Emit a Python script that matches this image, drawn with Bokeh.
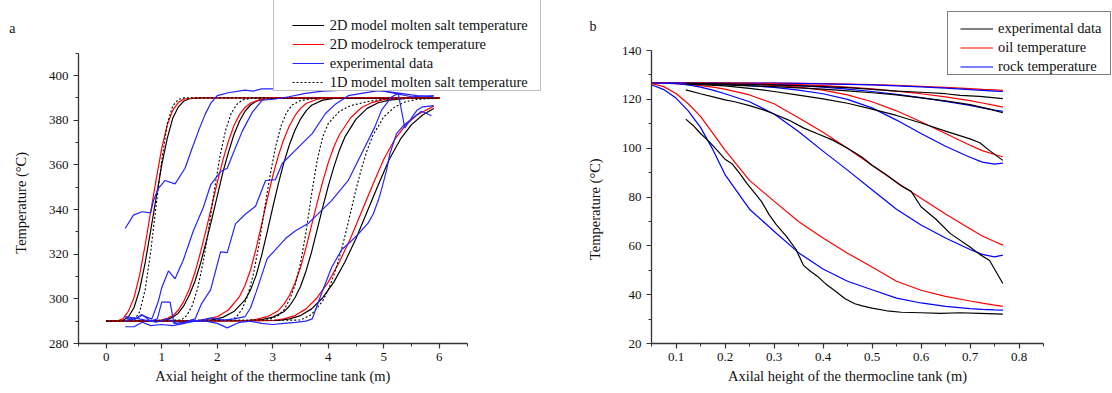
from bokeh.plotting import figure
from bokeh.models import Legend, LegendItem, FixedTicker, LinearAxis, Range1d
from bokeh.layouts import row
from bokeh.embed import file_html
from bokeh.resources import INLINE

FONT = "Liberation Serif"

# ---------------- Panel a data (x: axial height m, T: temperature C) ----------------
A_BLK1_X = [0.0, 0.3, 0.4, 0.5, 0.6, 0.7, 0.8, 0.9, 1.0, 1.1, 1.2, 1.3, 1.4, 1.5, 1.7, 6.0]
A_BLK1_T = [290, 290.3, 292, 296, 304, 316, 330.5, 345.5, 360, 372, 381, 386, 388.6, 389.6, 390, 390]
A_RED1_X = [0.0, 0.2, 0.3, 0.4, 0.5, 0.6, 0.7, 0.8, 0.9, 1.0, 1.1, 1.2, 1.3, 1.4, 1.6, 6.0]
A_RED1_T = [290, 290.2, 291, 294.5, 300.5, 310.5, 324, 339, 353.5, 367.5, 378, 384.5, 388, 389.5, 390, 390]
A_DOT1_X = [0.0, 0.5, 0.6, 0.7, 0.8, 0.9, 1.0, 1.1, 1.2, 1.3, 1.4, 6.0]
A_DOT1_T = [290, 290.5, 294, 304, 321, 342, 362, 378.5, 386.5, 389.3, 390, 390]

A_BLK2_X = [0.0, 1.0, 1.1, 1.2, 1.3, 1.4, 1.5, 1.6, 1.7, 1.8, 1.9, 2.0, 2.1, 2.2, 2.3, 2.4, 2.5, 2.6, 2.7, 2.9, 3.1, 6.0]
A_BLK2_T = [290, 290.3, 290.8, 291.8, 293.7, 297, 301.8, 308, 316, 325.5, 335.5, 346, 356.5, 365.5, 373.5, 379.5, 384, 386.8, 388.5, 389.7, 390, 390]
A_RED2_X = [0.0, 0.9, 1.0, 1.1, 1.2, 1.3, 1.4, 1.5, 1.6, 1.7, 1.8, 1.9, 2.0, 2.1, 2.2, 2.3, 2.4, 2.5, 2.6, 2.8, 3.0, 6.0]
A_RED2_T = [290, 290.2, 290.6, 291.3, 292.5, 295, 299, 304.5, 312, 321, 331, 341.5, 352, 362, 370.5, 377.5, 382.5, 385.7, 387.7, 389.5, 390, 390]
A_DOT2_X = [0.0, 1.35, 1.45, 1.55, 1.65, 1.75, 1.85, 1.95, 2.05, 2.15, 2.25, 2.35, 2.45, 2.6, 6.0]
A_DOT2_T = [290, 290.5, 292.5, 297, 305, 317, 332, 349, 364, 375.5, 383, 387, 389, 389.8, 390]

A_BLK3_X = [0.0, 1.7, 1.9, 2.1, 2.3, 2.5, 2.6, 2.7, 2.8, 2.9, 3.0, 3.1, 3.2, 3.3, 3.4, 3.5, 3.6, 3.7, 3.9, 4.1, 6.0]
A_BLK3_T = [290, 290.2, 290.6, 291.7, 294.3, 299.5, 304, 310.5, 319.5, 330, 341, 351.5, 361, 369, 375.5, 380.5, 384.2, 386.7, 389, 389.8, 390]
A_RED3_X = [0.0, 1.6, 1.8, 2.0, 2.2, 2.4, 2.5, 2.6, 2.7, 2.8, 2.9, 3.0, 3.1, 3.2, 3.3, 3.4, 3.5, 3.6, 3.8, 4.0, 6.0]
A_RED3_T = [290, 290.2, 290.7, 292, 295, 301, 306, 313, 322.5, 333.5, 344.5, 355, 364, 371.5, 377.5, 382, 385.3, 387.5, 389.4, 390, 390]
A_DOT3_X = [0.0, 2.25, 2.35, 2.45, 2.55, 2.65, 2.75, 2.85, 2.95, 3.05, 3.15, 3.25, 3.35, 3.5, 3.75, 6.0]
A_DOT3_T = [290, 290.5, 292, 295.5, 301.5, 311, 324, 340, 355, 368, 377.5, 383.5, 386.8, 388.8, 389.8, 390]

A_BLK4_X = [0.0, 2.6, 2.8, 3.0, 3.2, 3.3, 3.4, 3.5, 3.6, 3.7, 3.8, 3.9, 4.0, 4.1, 4.2, 4.3, 4.5, 4.7, 4.9, 5.1, 5.4, 6.0]
A_BLK4_T = [290, 290.2, 290.7, 291.8, 294.2, 296.8, 300.5, 305.5, 312.5, 321, 331, 341, 350.5, 359, 366.5, 372.5, 380.5, 385.3, 387.8, 389, 389.8, 390]
A_RED4_X = [0.0, 2.5, 2.7, 2.9, 3.1, 3.2, 3.3, 3.4, 3.5, 3.6, 3.7, 3.8, 3.9, 4.0, 4.1, 4.2, 4.4, 4.6, 4.8, 5.0, 5.3, 6.0]
A_RED4_T = [290, 290.2, 290.8, 292, 294.7, 297.5, 301.5, 307, 314, 323, 333, 343, 352.5, 361, 368, 373.5, 381, 385.7, 388, 389.2, 389.8, 390]
A_DOT4_X = [0.0, 2.9, 3.1, 3.2, 3.3, 3.4, 3.5, 3.6, 3.7, 3.8, 3.9, 4.0, 4.2, 4.4, 4.7, 5.0, 6.0]
A_DOT4_T = [290, 290.5, 292.5, 295, 299.5, 306, 316, 330, 347, 362, 372.5, 378.5, 384, 386.5, 388.3, 389.5, 390]

A_BLK5_X = [0.0, 3.1, 3.3, 3.5, 3.7, 3.9, 4.1, 4.3, 4.5, 4.7, 4.9, 5.1, 5.3, 5.5, 5.7, 5.9]
A_BLK5_T = [290, 290.3, 291, 292.5, 295.5, 300.5, 307.5, 316.5, 327, 339, 351, 362.5, 371.5, 378, 382.3, 385.2]
A_RED5_X = [0.0, 3.0, 3.2, 3.4, 3.6, 3.8, 4.0, 4.2, 4.4, 4.6, 4.8, 5.0, 5.2, 5.4, 5.6, 5.8, 5.9]
A_RED5_T = [290, 290.3, 291, 292.5, 295.5, 300.5, 307.5, 316.5, 327, 339, 351, 362.5, 371.5, 378, 382.3, 385, 386.3]
A_DOT5_X = [0.0, 3.5, 3.7, 3.9, 4.0, 4.1, 4.2, 4.3, 4.4, 4.5, 4.6, 4.7, 4.8, 5.0, 5.2, 5.4, 5.6, 5.9]
A_DOT5_T = [290, 290.5, 293, 299, 304, 310.5, 318.5, 328, 338.5, 349, 358.5, 366.5, 373, 381.5, 386, 388.3, 389.3, 389.8]

A_EXP1_X = [0.34, 0.49, 0.64, 0.80, 0.85, 0.94, 1.06, 1.24, 1.42, 1.54, 1.69, 1.78, 1.88, 2.0, 2.2, 2.5, 2.65, 2.8, 3.0, 3.3, 3.6, 4.0, 4.5, 5.0, 5.3, 5.6, 5.9]
A_EXP1_T = [331.5, 337.5, 339, 338.5, 344, 349.5, 353, 351.5, 358.5, 367, 377, 382.5, 387.5, 391, 392.3, 393.5, 393, 394, 394, 394.5, 395, 395, 394.5, 393, 392, 391, 390.5]
A_EXP2_X = [0.34, 0.55, 0.64, 0.82, 0.94, 1.0, 1.12, 1.24, 1.39, 1.57, 1.75, 1.88, 2.06, 2.18, 2.3, 2.45, 2.63, 2.81, 3.05, 3.29, 3.59, 3.9, 4.3, 4.8, 5.2, 5.5, 5.9]
A_EXP2_T = [292, 291.2, 292.7, 290.9, 299, 305, 312.5, 309, 317.5, 330.5, 341, 351, 357, 358.5, 366, 375, 383.5, 389, 389.5, 390.5, 392, 393, 393.5, 394, 392, 390.5, 391]
A_EXP3_X = [0.34, 0.5, 0.64, 0.8, 0.92, 1.0, 1.15, 1.22, 1.4, 1.6, 1.72, 1.88, 2.06, 2.18, 2.33, 2.51, 2.69, 2.87, 3.05, 3.17, 3.41, 3.71, 3.95, 4.12, 4.36, 4.6, 4.85, 5.1]
A_EXP3_T = [291.5, 290.5, 293, 290, 291, 298.5, 298.5, 289, 289.5, 291, 298, 304, 321, 320.7, 333.7, 338, 341.5, 353, 353.4, 360.6, 366.6, 374, 383, 387, 391, 392, 393, 393.5]
A_EXP4_X = [0.34, 0.5, 0.7, 0.9, 1.1, 1.3, 1.5, 1.7, 1.9, 2.1, 2.3, 2.5, 2.6, 2.7, 2.9, 3.05, 3.23, 3.41, 3.65, 3.76, 4.06, 4.36, 4.48, 4.66, 4.84, 4.96, 5.14, 5.26, 5.38, 5.5, 5.6, 5.7, 5.9]
A_EXP4_T = [290, 291.5, 290.5, 289.5, 291, 288.5, 290, 290.5, 291.5, 290.5, 291, 292, 296, 303, 318, 322, 327, 330.5, 334, 336.7, 344, 353, 359, 368, 377, 384.5, 390.4, 392, 376.5, 381, 384.5, 386, 386.5]
A_EXP5_X = [0.34, 0.5, 0.65, 0.8, 1.0, 1.2, 1.4, 1.6, 1.8, 2.0, 2.18, 2.4, 2.6, 2.8, 3.0, 3.2, 3.41, 3.6, 3.71, 3.88, 4.06, 4.24, 4.42, 4.54, 4.72, 4.81, 4.9, 4.96, 5.05, 5.11, 5.23, 5.35, 5.5, 5.68, 5.86]
A_EXP5_T = [287.5, 287.5, 289.5, 288, 288.5, 288, 289, 290, 290, 289, 287, 289.5, 290, 289, 288.5, 289, 289.5, 290, 291, 302.5, 314, 322, 326, 329, 334, 338, 344, 349, 357.5, 365, 374, 377.5, 380.5, 384, 382]

A_X_TICKS = [0, 1, 2, 3, 4, 5, 6]
A_Y_TICKS = [280, 300, 320, 340, 360, 380, 400]

# ---------------- Panel b data ----------------
B_X = [0.05, 0.075, 0.1, 0.125, 0.15, 0.175, 0.2, 0.25, 0.3, 0.35, 0.4, 0.45, 0.5, 0.55, 0.6, 0.65, 0.7, 0.725, 0.75, 0.767]
B_OIL1 = [126.7, 126.7, 126.7, 126.7, 126.7, 126.7, 126.7, 126.7, 126.6, 126.5, 126.4, 126.2, 126.0, 125.7, 125.3, 124.9, 124.4, 124.1, 123.9, 123.7]
B_ROCK1 = [126.7, 126.7, 126.7, 126.7, 126.7, 126.7, 126.7, 126.7, 126.6, 126.5, 126.3, 126.1, 125.9, 125.5, 125.1, 124.6, 124.0, 123.7, 123.4, 123.2]
B_OIL2 = [126.7, 126.7, 126.7, 126.7, 126.7, 126.7, 126.6, 126.5, 126.3, 126.0, 125.6, 125.0, 124.3, 123.4, 122.3, 121.0, 119.5, 118.5, 117.5, 116.8]
B_ROCK2 = [126.7, 126.7, 126.7, 126.7, 126.7, 126.6, 126.5, 126.3, 126.0, 125.6, 125.0, 124.2, 123.2, 122.0, 120.7, 119.2, 117.5, 116.5, 115.6, 115.1]
B_OIL3 = [126.7, 126.7, 126.6, 126.6, 126.6, 126.5, 126.5, 126.2, 125.7, 125.0, 123.8, 121.8, 119.0, 115.3, 110.8, 106.0, 101.2, 99.0, 97.4, 96.5]
B_ROCK3 = [126.7, 126.7, 126.6, 126.5, 126.4, 126.3, 126.1, 125.6, 124.9, 123.8, 122.3, 120.0, 116.5, 111.5, 106.0, 100.8, 96.3, 94.3, 93.5, 93.9]
B_OIL4 = [126.7, 126.6, 126.4, 126.0, 125.6, 125.0, 124.2, 121.8, 118.2, 112.5, 106.5, 100.0, 93.0, 86.0, 79.5, 73.0, 67.0, 64.0, 61.8, 60.3]
B_ROCK4 = [126.7, 126.6, 126.4, 125.9, 125.0, 123.8, 122.3, 119.0, 114.0, 106.8, 98.8, 91.0, 83.0, 75.0, 68.5, 63.2, 58.5, 56.5, 55.5, 56.2]
B_OIL5 = [126.5, 125.2, 122.4, 118.2, 113.0, 106.2, 99.2, 86.8, 78.3, 70.0, 63.2, 57.0, 51.3, 45.5, 41.8, 39.3, 37.4, 36.5, 35.7, 35.2]
B_ROCK5 = [126.0, 124.0, 120.5, 115.3, 108.5, 99.5, 89.2, 75.0, 66.0, 57.2, 50.5, 45.5, 42.0, 38.6, 36.6, 35.2, 34.3, 34.0, 33.8, 33.7]

B_EXP1_X = [0.12, 0.2, 0.3, 0.4, 0.45, 0.5, 0.55, 0.6, 0.65, 0.68, 0.72, 0.767]
B_EXP1_T = [126.5, 126.3, 125.9, 125.2, 124.8, 124.1, 123.4, 122.9, 122.3, 121.6, 121.2, 120.3]
B_EXP2_X = [0.12, 0.2, 0.3, 0.4, 0.45, 0.5, 0.55, 0.6, 0.65, 0.7, 0.74, 0.767]
B_EXP2_T = [126.3, 125.9, 125.2, 124.2, 123.5, 122.7, 121.8, 120.6, 119.4, 117.8, 116.0, 114.5]
B_EXP3_X = [0.12, 0.15, 0.2, 0.25, 0.3, 0.35, 0.4, 0.45, 0.5, 0.55, 0.6, 0.65, 0.7, 0.72, 0.74, 0.767]
B_EXP3_T = [126.2, 126.0, 125.5, 124.5, 123.2, 121.7, 120.2, 118.4, 116.0, 113.4, 110.3, 107.0, 103.8, 102.2, 99.0, 95.0]
B_EXP4_X = [0.12, 0.15, 0.18, 0.2, 0.22, 0.25, 0.28, 0.3, 0.33, 0.36, 0.39, 0.42, 0.45, 0.48, 0.5, 0.53, 0.56, 0.58, 0.6, 0.63, 0.66, 0.7, 0.72, 0.74, 0.767]
B_EXP4_T = [123.9, 122.3, 120.8, 119.8, 119.0, 117.4, 115.6, 114.0, 111.5, 108.3, 105.8, 103.3, 100.0, 96.3, 93.0, 89.0, 84.5, 82.3, 76.0, 71.0, 65.0, 59.5, 56.5, 54.0, 44.6]
B_EXP5_X = [0.12, 0.135, 0.15, 0.165, 0.18, 0.2, 0.215, 0.23, 0.245, 0.26, 0.275, 0.29, 0.305, 0.325, 0.345, 0.36, 0.375, 0.39, 0.405, 0.425, 0.445, 0.465, 0.48, 0.5, 0.53, 0.56, 0.6, 0.64, 0.68, 0.72, 0.767]
B_EXP5_T = [111.9, 109.3, 106.0, 103.2, 100.0, 95.5, 93.5, 89.7, 85.5, 81.8, 78.0, 72.8, 68.6, 64.0, 58.5, 52.0, 49.5, 47.3, 44.5, 41.5, 38.3, 36.3, 35.4, 34.5, 33.4, 32.8, 32.6, 32.3, 32.6, 32.3, 32.0]

B_X_TICKS = [0.1, 0.2, 0.3, 0.4, 0.5, 0.6, 0.7, 0.8]
B_Y_TICKS = [20, 40, 60, 80, 100, 120, 140]

RED = "#ff0000"
BLUE_A = "#2424ff"
BLUE_B = "#0000ff"
AXIS_COLOR = "#333333"
TXT = "#111111"


def style_main_axes(p):
    p.outline_line_color = None
    p.grid.visible = False
    p.background_fill_color = "white"
    p.border_fill_color = "white"
    for ax in (p.xaxis[0], p.yaxis[0]):
        ax.axis_line_color = AXIS_COLOR
        ax.axis_line_width = 1.3
        ax.major_tick_line_color = AXIS_COLOR
        ax.minor_tick_line_color = AXIS_COLOR
        ax.major_tick_line_width = 1.2
        ax.minor_tick_line_width = 1.0
        ax.major_tick_out = 5
        ax.major_tick_in = 0
        ax.minor_tick_out = 3
        ax.minor_tick_in = 0
        ax.major_label_text_font = FONT
        ax.major_label_text_font_size = "13px"
        ax.major_label_text_color = TXT
    p.xaxis[0].major_label_standoff = 4


def text_axis(p, side, tick, text, standoff, orientation="horizontal", size="14.5px"):
    """An axis without line or ticks, used only to place one title text."""
    ax = LinearAxis(ticker=FixedTicker(ticks=[tick], minor_ticks=[]),
                    major_label_overrides={tick: text},
                    major_label_orientation=orientation,
                    major_label_standoff=standoff,
                    axis_line_color=None, major_tick_line_color=None,
                    minor_tick_line_color=None, major_tick_out=0, major_tick_in=0,
                    minor_tick_out=0, minor_tick_in=0,
                    major_label_text_font=FONT, major_label_text_font_size=size,
                    major_label_text_color=TXT)
    p.add_layout(ax, side)
    return ax


# ---------------- Figure a ----------------
p1 = figure(width=560, height=393, x_range=Range1d(-0.5, 7.968), y_range=Range1d(280, 433.6),
            output_backend="svg", toolbar_location=None,
            min_border_left=78, min_border_right=12, min_border_top=0, min_border_bottom=50)
style_main_axes(p1)
p1.xaxis.ticker = FixedTicker(ticks=A_X_TICKS, minor_ticks=[-0.5, 0.5, 1.5, 2.5, 3.5, 4.5, 5.5, 6.5])
p1.yaxis.ticker = FixedTicker(ticks=A_Y_TICKS, minor_ticks=[290, 310, 330, 350, 370, 390, 410])
p1.xaxis.bounds = (-0.5, 6.5)
p1.yaxis.bounds = (280, 410)
text_axis(p1, "left", 343, "Temperature (\u00b0C)", 16, orientation="vertical")
text_axis(p1, "left", 421, "a", -5, size="14px")
text_axis(p1, "below", 3.0, "Axial height of the thermocline tank (m)", 4)

blk_r = red_r = dot_r = exp_r = None
for bx, bt, rx, rt, dx, dt in [
    (A_BLK1_X, A_BLK1_T, A_RED1_X, A_RED1_T, A_DOT1_X, A_DOT1_T),
    (A_BLK2_X, A_BLK2_T, A_RED2_X, A_RED2_T, A_DOT2_X, A_DOT2_T),
    (A_BLK3_X, A_BLK3_T, A_RED3_X, A_RED3_T, A_DOT3_X, A_DOT3_T),
    (A_BLK4_X, A_BLK4_T, A_RED4_X, A_RED4_T, A_DOT4_X, A_DOT4_T),
    (A_BLK5_X, A_BLK5_T, A_RED5_X, A_RED5_T, A_DOT5_X, A_DOT5_T),
]:
    blk_r = p1.line(bx, bt, line_color="black", line_width=1.2)
    red_r = p1.line(rx, rt, line_color=RED, line_width=1.2)
    dot_r = p1.line(dx, dt, line_color="black", line_width=1.1, line_dash="2 2")
for ex, et in [(A_EXP1_X, A_EXP1_T), (A_EXP2_X, A_EXP2_T), (A_EXP3_X, A_EXP3_T),
               (A_EXP4_X, A_EXP4_T), (A_EXP5_X, A_EXP5_T)]:
    exp_r = p1.line(ex, et, line_color=BLUE_A, line_width=1.2)

ghost_a = p1.line(x=[], y=[], line_alpha=0)
frame_a = Legend(items=[LegendItem(label=" ", renderers=[ghost_a])],
                 location=(194.7, 252.3), padding=0, margin=0, spacing=0,
                 glyph_width=266, glyph_height=101, label_height=101, label_width=0,
                 label_standoff=0, label_text_font_size="1px",
                 border_line_color="#808080", border_line_width=1.5,
                 background_fill_color="white", background_fill_alpha=1.0)
p1.add_layout(frame_a, "center")
leg_a = Legend(items=[
    LegendItem(label="2D model molten salt temperature", renderers=[blk_r]),
    LegendItem(label="2D modelrock temperature", renderers=[red_r]),
    LegendItem(label="experimental data", renderers=[exp_r]),
    LegendItem(label="1D model molten salt temperature", renderers=[dot_r]),
], location=(213.7, 252.1), padding=0, margin=0, spacing=2,
    glyph_width=32, glyph_height=16, label_height=16, label_standoff=6,
    label_text_font=FONT, label_text_font_size="14.5px", label_text_color=TXT,
    border_line_alpha=0, background_fill_alpha=0)
p1.add_layout(leg_a, "center")

# ---------------- Figure b ----------------
p2 = figure(width=552, height=393, x_range=Range1d(0.05, 0.9908), y_range=Range1d(20, 160.48),
            output_backend="svg", toolbar_location=None,
            min_border_left=91, min_border_right=0, min_border_top=0, min_border_bottom=50)
style_main_axes(p2)
p2.xaxis.ticker = FixedTicker(ticks=B_X_TICKS,
                              minor_ticks=[0.05, 0.15, 0.25, 0.35, 0.45, 0.55, 0.65, 0.75, 0.85])
p2.yaxis.ticker = FixedTicker(ticks=B_Y_TICKS, minor_ticks=[30, 50, 70, 90, 110, 130])
p2.xaxis.bounds = (0.05, 0.85)
p2.yaxis.bounds = (20, 140)
text_axis(p2, "left", 75, "Temperature (\u00b0C)", 15, orientation="vertical")
text_axis(p2, "left", 150, "b", -12, size="14px")
text_axis(p2, "below", 0.45, "Axilal height of the thermocline tank (m)", 4)

oil_r = rock_r = bexp_r = None
for oil, rock in [(B_OIL1, B_ROCK1), (B_OIL2, B_ROCK2), (B_OIL3, B_ROCK3),
                  (B_OIL4, B_ROCK4), (B_OIL5, B_ROCK5)]:
    oil_r = p2.line(B_X, oil, line_color=RED, line_width=1.2)
    rock_r = p2.line(B_X, rock, line_color=BLUE_B, line_width=1.2)
for ex, et in [(B_EXP1_X, B_EXP1_T), (B_EXP2_X, B_EXP2_T), (B_EXP3_X, B_EXP3_T),
               (B_EXP4_X, B_EXP4_T), (B_EXP5_X, B_EXP5_T)]:
    bexp_r = p2.line(ex, et, line_color="black", line_width=1.2)

ghost_b = p2.line(x=[], y=[], line_alpha=0)
frame_b = Legend(items=[LegendItem(label=" ", renderers=[ghost_b])],
                 location=(296.3, 268), padding=0, margin=0, spacing=0,
                 glyph_width=162, glyph_height=62, label_height=62, label_width=0,
                 label_standoff=0, label_text_font_size="1px",
                 border_line_color="black", border_line_width=1.3,
                 background_fill_color="white", background_fill_alpha=1.0)
p2.add_layout(frame_b, "center")
leg_b = Legend(items=[
    LegendItem(label="experimental data", renderers=[bexp_r]),
    LegendItem(label="oil temperature", renderers=[oil_r]),
    LegendItem(label="rock temperature", renderers=[rock_r]),
], location=(309, 268), padding=0, margin=0, spacing=2,
    glyph_width=33, glyph_height=17, label_height=17, label_standoff=5,
    label_text_font=FONT, label_text_font_size="14.5px", label_text_color=TXT,
    border_line_alpha=0, background_fill_alpha=0)
p2.add_layout(leg_b, "center")

layout = row(p1, p2)
open("out.html", "w").write(file_html(layout, INLINE))
